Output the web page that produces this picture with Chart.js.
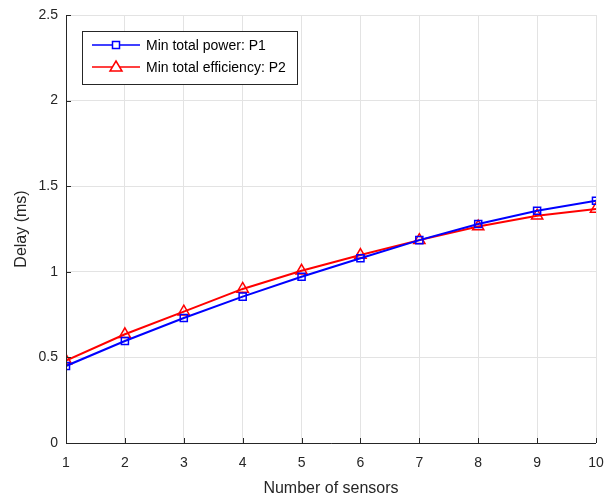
<!DOCTYPE html>
<html>
<head>
<meta charset="utf-8">
<script src="https://cdn.jsdelivr.net/npm/chart.js@4/dist/chart.umd.min.js"></script>
<style>
  html, body { margin: 0; padding: 0; background: #fff; }
  #wrap { width: 604px; height: 502px; }
</style>
</head>
<body>
<div id="wrap"><canvas id="chart" width="604" height="502"></canvas></div>
<script>
// Data
const sensors = [1, 2, 3, 4, 5, 6, 7, 8, 9, 10];
const powerDelay = [0.45, 0.596, 0.73, 0.855, 0.971, 1.079, 1.185, 1.279, 1.357, 1.415];
const efficiencyDelay = [0.481, 0.635, 0.767, 0.90, 1.006, 1.098, 1.185, 1.264, 1.328, 1.367];
const yTicks = [0, 0.5, 1, 1.5, 2, 2.5];

const FONT = '"Liberation Sans", Arial, sans-serif';
const TEXT = '#262626';

// small inward tick marks, like the original axes
const innerTicks = {
  id: 'innerTicks',
  afterDatasetsDraw(chart) {
    const { ctx, chartArea, scales } = chart;
    ctx.save();
    ctx.strokeStyle = '#262626';
    ctx.lineWidth = 1;
    ctx.beginPath();
    // axis lines
    ctx.moveTo(chartArea.left + 0.5, chartArea.top);
    ctx.lineTo(chartArea.left + 0.5, chartArea.bottom + 0.5);
    ctx.lineTo(chartArea.right, chartArea.bottom + 0.5);
    sensors.forEach(v => {
      const x = Math.round(scales.x.getPixelForValue(v)) + 0.5;
      ctx.moveTo(x, chartArea.bottom);
      ctx.lineTo(x, chartArea.bottom - 5);
    });
    yTicks.forEach(v => {
      const y = Math.round(scales.y.getPixelForValue(v)) + 0.5;
      ctx.moveTo(chartArea.left, y);
      ctx.lineTo(chartArea.left + 5, y);
    });
    ctx.stroke();
    ctx.restore();
  }
};

// legend box inside the plot, top left
const boxLegend = {
  id: 'boxLegend',
  afterDraw(chart) {
    const { ctx, chartArea } = chart;
    const x0 = chartArea.left + 16, y0 = chartArea.top + 16;
    const w = 215, h = 53;
    ctx.save();
    ctx.fillStyle = '#fff';
    ctx.fillRect(x0, y0, w, h);
    ctx.strokeStyle = '#262626';
    ctx.lineWidth = 1;
    ctx.strokeRect(x0 + 0.5, y0 + 0.5, w, h);
    ctx.font = '14px ' + FONT;
    ctx.textBaseline = 'middle';
    chart.data.datasets.forEach((ds, i) => {
      const y = y0 + 14 + i * 22;
      ctx.strokeStyle = ds.borderColor;
      ctx.lineWidth = 1.5;
      ctx.beginPath();
      ctx.moveTo(x0 + 10, y);
      ctx.lineTo(x0 + 58, y);
      ctx.stroke();
      const cx = x0 + 34;
      ctx.lineWidth = 1.5;
      ctx.beginPath();
      if (ds.pointStyle === 'rect') {
        ctx.rect(cx - 3.5, y - 3.5, 7, 7);
      } else {
        ctx.moveTo(cx, y - 6);
        ctx.lineTo(cx + 6, y + 4);
        ctx.lineTo(cx - 6, y + 4);
        ctx.closePath();
      }
      ctx.fillStyle = '#fff';
      ctx.fill();
      ctx.stroke();
      ctx.fillStyle = '#000';
      ctx.fillText(ds.label, x0 + 64, y + 1);
    });
    ctx.restore();
  }
};

new Chart(document.getElementById('chart'), {
  type: 'line',
  data: {
    labels: sensors,
    datasets: [
      {
        label: 'Min total power: P1',
        data: powerDelay,
        borderColor: '#0000ff',
        backgroundColor: '#ffffff00',
        borderWidth: 2,
        pointStyle: 'rect',
        pointRadius: 5,
        pointBorderWidth: 1.5,
        pointBorderColor: '#0000ff',
        pointBackgroundColor: '#ffffff00',
        tension: 0
      },
      {
        label: 'Min total efficiency: P2',
        data: efficiencyDelay,
        borderColor: '#ff0000',
        backgroundColor: '#ffffff00',
        borderWidth: 2,
        pointStyle: 'triangle',
        pointRadius: 6.5,
        pointBorderWidth: 1.5,
        pointBorderColor: '#ff0000',
        pointBackgroundColor: '#ffffff00',
        tension: 0
      }
    ]
  },
  options: {
    responsive: false,
    animation: false,
    layout: { padding: { top: 15, right: 7, left: 0, bottom: 0 } },
    plugins: { legend: { display: false }, tooltip: { enabled: false } },
    scales: {
      x: {
        type: 'linear',
        min: 1,
        max: 10,
        afterBuildTicks(scale) { scale.ticks = sensors.map(v => ({ value: v })); },
        afterFit(scale) { scale.height = 59; scale.paddingLeft = 0; scale.paddingRight = 0; },
        grid: { color: '#e3e3e3', drawTicks: false },
        border: { display: false },
        ticks: { color: TEXT, font: { family: FONT, size: 14 }, padding: 12, maxRotation: 0 },
        title: { display: true, text: 'Number of sensors', color: TEXT, font: { family: FONT, size: 16 }, padding: { top: 4 } }
      },
      y: {
        min: 0,
        max: 2.5,
        afterBuildTicks(scale) { scale.ticks = yTicks.map(v => ({ value: v })); },
        afterFit(scale) { scale.width = 66; scale.paddingTop = 0; scale.paddingBottom = 0; },
        grid: { color: '#e3e3e3', drawTicks: false },
        border: { display: false },
        ticks: { color: TEXT, font: { family: FONT, size: 14 }, padding: 8, callback: v => String(v) },
        title: { display: true, text: 'Delay (ms)', color: TEXT, font: { family: FONT, size: 16 }, padding: { top: 12, bottom: 0 } }
      }
    }
  },
  plugins: [innerTicks, boxLegend]
});
</script>
</body>
</html>
